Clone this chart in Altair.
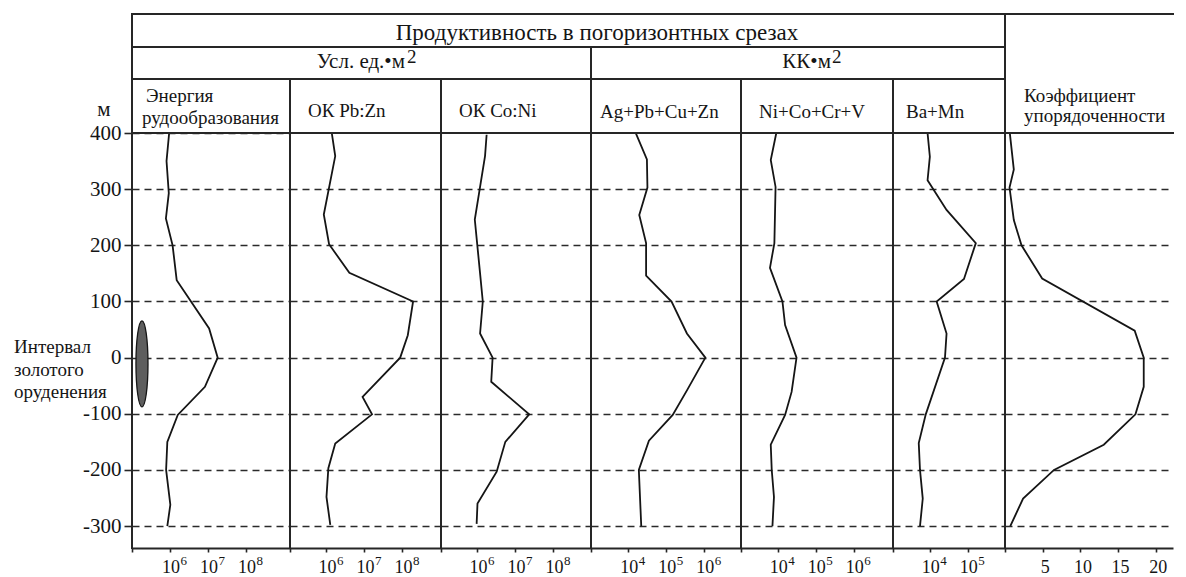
import altair as alt
import pandas as pd

FONT = "Liberation Serif"
INK = "#151515"
FRAME = "#262626"

# ---------------- data (depth in m) ----------------
depth_energy = [400, 350, 293, 248, 200, 138, 52, 0, -52, -102, -150, -200, -262, -300]
energy = [9.5e5, 8.1e5, 9.3e5, 7.8e5, 1.17e6, 1.5e6, 1.07e7, 1.8e7, 8.3e6, 1.6e6, 8.5e5, 7.9e5, 1.02e6, 8.5e5]

depth_pbzn = [400, 359, 255, 202, 151, 100, 40, 0, -70, -101, -153, -197, -248, -298]
pbzn = [1.38e6, 1.7e6, 8.5e5, 1.17e6, 4.0e6, 1.9e8, 1.38e8, 8.7e7, 8.9e6, 1.58e7, 1.7e6, 1.12e6, 1.0e6, 1.26e6]

depth_coni = [397, 359, 304, 246, 150, 100, 43, 0, -43, -101, -150, -203, -260, -296]
coni = [1.74e6, 1.58e6, 1.17e6, 8.5e5, 1.17e6, 1.38e6, 1.17e6, 2.5e6, 2.3e6, 2.3e7, 5.4e6, 3.2e6, 1.0e6, 9.5e5]

depth_agpb = [400, 353, 303, 254, 204, 146, 100, 43, 0, -57, -102, -148, -200, -300]
agpb = [1.58e4, 3.1e4, 3.2e4, 1.95e4, 2.95e4, 2.95e4, 1.38e5, 3.5e5, 1.07e6, 3.6e5, 1.48e5, 3.5e4, 1.9e4, 2.2e4]

depth_nico = [400, 352, 304, 204, 160, 100, 58, 0, -61, -102, -155, -200, -248, -300]
nico = [9.1e3, 6.5e3, 8.7e3, 8.1e3, 6.2e3, 1.32e4, 1.55e4, 3.1e4, 2.3e4, 1.55e4, 6.5e3, 6.9e3, 7.9e3, 7.2e3]

depth_bamn = [400, 358, 316, 263, 204, 140, 100, 43, 0, -101, -152, -200, -251, -300]
bamn = [8.7e3, 1.0e4, 8.7e3, 2.75e4, 1.62e5, 7.9e4, 1.51e4, 2.75e4, 2.5e4, 7.8e3, 5.1e3, 5.5e3, 6.5e3, 5.5e3]

depth_order = [400, 335, 303, 245, 200, 141, 48, 0, -52, -101, -155, -200, -251, -300]
order_k = [0.64, 1.17, 0.6, 1.17, 2.19, 4.93, 17.2, 18.4, 18.4, 17.3, 13.1, 6.5, 2.4, 0.7]

# gold mineralisation interval (ellipse centre)
ore_x = [1.83e5]
ore_depth = [-11]

y_ticks = [-300, -200, -100, 0, 100, 200, 300, 400]
grid_vals = [-300, -200, -100, 0, 100, 200, 300]
lin_ticks = [5, 10, 15, 20]

title_main = "Продуктивность в погоризонтных срезах"
sub_left = "Усл. ед.•м"
sub_right = "КК•м"
col_titles = [["Энергия", "рудообразования"], ["ОК Pb:Zn"], ["ОК Co:Ni"],
              ["Ag+Pb+Cu+Zn"], ["Ni+Co+Cr+V"], ["Ba+Mn"], ["Коэффициент", "упорядоченности"]]

# ---------------- layout constants ----------------
DEC = 38.0                 # px per decade on the log axes
HT = 534                   # full column height (header + data)
HDR = 119                  # header height (data area starts below)
Y_DOM = [-339, 612]        # depth domain; 400 m sits at the bottom of the header
WIDTHS = [158, 151, 150, 150, 152, 112, 168]
LIN_MAX = WIDTHS[6] / 7.54
R1, R2 = 33, 65            # header row separators
LW = 1.8                   # curve width
FW = 2.0                   # frame width

ELLIPSE = ("M0,-1 C0.0773,-1 0.14,-0.5523 0.14,0 C0.14,0.5523 0.0773,1 0,1 "
           "C-0.0773,1 -0.14,0.5523 -0.14,0 C-0.14,-0.5523 -0.0773,-1 0,-1 Z")

one = pd.DataFrame({"k": [0]})


def yscale():
    return alt.Scale(domain=Y_DOM, nice=False, zero=False)


def grid_axis():
    return alt.Axis(values=grid_vals, grid=True, gridDash=[7, 5], gridColor="#2a2a2a",
                    gridWidth=1.3, labels=False, ticks=False, domain=False, title=None)


def txt(x, y, text, size, align="left", lh=22.5):
    return alt.Chart(one).mark_text(font=FONT, fontSize=size, color=INK, align=align,
                                    baseline="alphabetic", lineHeight=lh).encode(
        x=alt.value(x), y=alt.value(y), text=alt.value(text))


def hrule(x1, x2, y):
    return alt.Chart(one).mark_rule(color=FRAME, strokeWidth=FW, strokeCap="square").encode(
        x=alt.value(x1), x2=alt.value(x2), y=alt.value(y))


def vrule(x, y1, y2):
    return alt.Chart(one).mark_rule(color=FRAME, strokeWidth=FW, strokeCap="square").encode(
        x=alt.value(x), y=alt.value(y1), y2=alt.value(y2))


def frame(w, left_from, rows):
    out = [hrule(0, w, 0), hrule(0, w, HDR), vrule(0, left_from, HT)]
    for r in rows:
        out.append(hrule(0, w, r))
    return out


def log_column(vals, depths, lo, w, exps, extra, first=False):
    hi = lo + w / DEC
    xs = alt.Scale(type="log", domain=[10 ** lo, 10 ** hi], nice=False)
    df = pd.DataFrame({"v": vals, "depth": depths})
    if first:
        yax = alt.Axis(values=y_ticks, grid=True, gridDash=[7, 5], gridColor="#2a2a2a",
                       gridWidth=1.3, labelFont=FONT, labelFontSize=21, labelColor=INK,
                       labelPadding=3, tickSize=8, tickColor=FRAME, tickWidth=1.6,
                       domain=False, title=None, labelExpr="'' + datum.value")
    else:
        yax = grid_axis()
    xax = alt.Axis(values=[10 ** lo] + [10.0 ** e for e in exps], labels=False, grid=False,
                   tickSize=4, tickWidth=1.6, tickColor=FRAME, domainColor=FRAME,
                   domainWidth=FW, title=None)
    line = alt.Chart(df).mark_line(color=INK, strokeWidth=LW).encode(
        x=alt.X("v:Q", scale=xs, axis=xax),
        y=alt.Y("depth:Q", scale=yscale(), axis=yax),
        order=alt.Order("depth:Q"))
    lab = pd.DataFrame({"v": [10.0 ** e for e in exps], "e": [str(e) for e in exps]})
    base = alt.Chart(lab).mark_text(text="10", font=FONT, fontSize=18, color=INK,
                                    baseline="alphabetic", align="center", dx=1).encode(
        x=alt.X("v:Q", scale=xs, axis=xax), y=alt.value(HT + 25))
    sup = alt.Chart(lab).mark_text(font=FONT, fontSize=13, color=INK,
                                   baseline="alphabetic", align="left", dx=10.5).encode(
        x=alt.X("v:Q", scale=xs, axis=xax), y=alt.value(HT + 17), text="e:N")
    layers = [line, base, sup]
    if first:
        ell = alt.Chart(pd.DataFrame({"v": ore_x, "depth": ore_depth})).mark_point(
            shape=ELLIPSE, size=7396, filled=True, fill="#5e5e5e", stroke=INK,
            strokeWidth=1.3, opacity=1).encode(
            x=alt.X("v:Q", scale=xs, axis=xax),
            y=alt.Y("depth:Q", scale=yscale(), axis=yax))
        layers.append(ell)
    layers += extra
    return alt.layer(*layers).properties(width=w, height=HT)


# ---------------- columns ----------------
c1_extra = frame(WIDTHS[0], 0, [R1, R2]) + [
    txt(-118, HDR + 220, ["Интервал", "золотого", "оруденения"], 19),
    txt(-28, HDR - 17, "м", 21, "center"),
    txt(465, 25.5, title_main, 23, "center"),
    txt(273, R1 + 21.3, sub_left, 21, "right"),
    txt(275, R1 + 16.3, "2", 19, "left"),
    txt(14, R2 + 22.5, col_titles[0][0], 19),
    txt(10, R2 + 45, col_titles[0][1], 19),
]
c2_extra = frame(WIDTHS[1], R2, [R1, R2]) + [txt(18, R2 + 37.5, col_titles[1][0], 19)]
c3_extra = frame(WIDTHS[2], R2, [R1, R2]) + [txt(18, R2 + 37.5, col_titles[2][0], 19)]
c4_extra = frame(WIDTHS[3], R1, [R1, R2]) + [
    txt(9, R2 + 38.7, col_titles[3][0], 19),
    txt(240, R1 + 21.3, sub_right, 21, "right"),
    txt(241, R1 + 16.3, "2", 19, "left"),
]
c5_extra = frame(WIDTHS[4], R2, [R1, R2]) + [txt(18, R2 + 38.7, col_titles[4][0], 19)]
c6_extra = frame(WIDTHS[5], R2, [R1, R2]) + [txt(13, R2 + 38.7, col_titles[5][0], 19)]

p1 = log_column(energy, depth_energy, 5.0, WIDTHS[0], [6, 7, 8], c1_extra, first=True)
p2 = log_column(pbzn, depth_pbzn, 5.04, WIDTHS[1], [6, 7, 8], c2_extra)
p3 = log_column(coni, depth_coni, 5.04, WIDTHS[2], [6, 7, 8], c3_extra)
p4 = log_column(agpb, depth_agpb, 3.02, WIDTHS[3], [4, 5, 6], c4_extra)
p5 = log_column(nico, depth_nico, 3.03, WIDTHS[4], [4, 5, 6], c5_extra)
p6 = log_column(bamn, depth_bamn, 3.03, WIDTHS[5], [4, 5], c6_extra)

W7 = WIDTHS[6]
xs7 = alt.Scale(domain=[0, LIN_MAX], nice=False, zero=False)
xax7 = alt.Axis(values=[0] + lin_ticks, labels=False, grid=False, tickSize=4, tickWidth=1.6,
                tickColor=FRAME, domainColor=FRAME, domainWidth=FW, title=None)
df7 = pd.DataFrame({"v": order_k, "depth": depth_order})
line7 = alt.Chart(df7).mark_line(color=INK, strokeWidth=LW).encode(
    x=alt.X("v:Q", scale=xs7, axis=xax7),
    y=alt.Y("depth:Q", scale=yscale(), axis=grid_axis()),
    order=alt.Order("depth:Q"))
lab7 = pd.DataFrame({"v": lin_ticks, "s": [str(t) for t in lin_ticks]})
text7 = alt.Chart(lab7).mark_text(font=FONT, fontSize=18, color=INK, baseline="alphabetic",
                                  align="center", dx=2.5).encode(
    x=alt.X("v:Q", scale=xs7, axis=xax7), y=alt.value(HT + 25), text="s:N")
p7 = alt.layer(line7, text7, *frame(W7, 0, []),
               txt(19, 88, col_titles[6][0], 19),
               txt(19, 108, col_titles[6][1], 19)).properties(width=W7, height=HT)

chart = alt.hconcat(p1, p2, p3, p4, p5, p6, p7, spacing=0, bounds="flush").properties(
    padding={"left": 6, "top": 4, "right": 0, "bottom": 0}
).configure(font=FONT).configure_view(stroke="transparent", strokeWidth=0)

chart.save("out.html", embed_options={"renderer": "svg", "actions": False})
